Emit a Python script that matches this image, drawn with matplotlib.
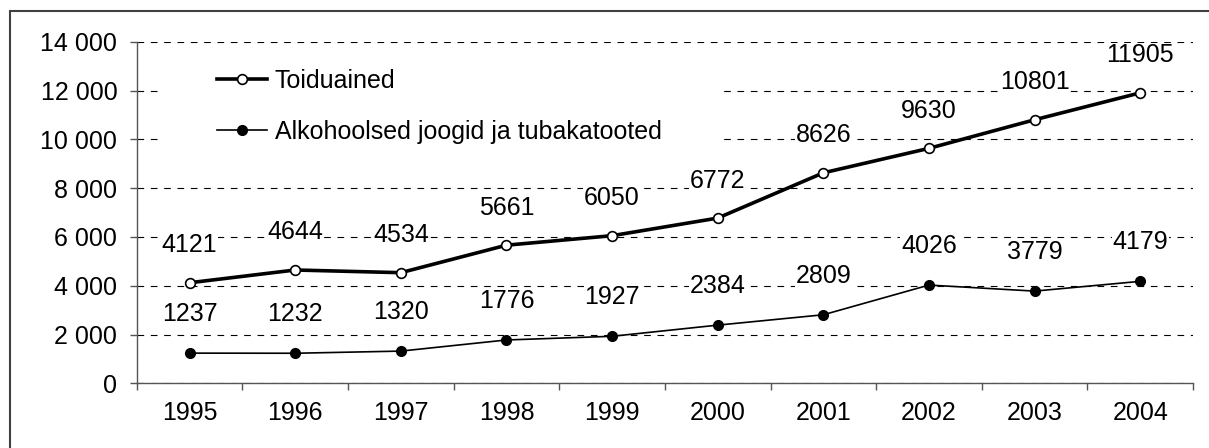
import matplotlib.pyplot as plt
from matplotlib.patches import Rectangle

# Andmed
aastad = ['1995', '1996', '1997', '1998', '1999', '2000', '2001', '2002', '2003', '2004']
toiduained = [4121, 4644, 4534, 5661, 6050, 6772, 8626, 9630, 10801, 11905]
alkohol = [1237, 1232, 1320, 1776, 1927, 2384, 2809, 4026, 3779, 4179]
y_ticks = [0, 2000, 4000, 6000, 8000, 10000, 12000, 14000]

plt.rcParams['font.family'] = ['Liberation Sans', 'DejaVu Sans']
plt.rcParams['font.size'] = 18

fig = plt.figure(figsize=(12.09, 4.48), dpi=100)
ax = fig.add_axes([0.1131, 0.1444, 0.8737, 0.7625])

x = list(range(len(aastad)))

ax.plot(x, toiduained, color='black', linewidth=2.6, marker='o', markersize=7,
        markerfacecolor='white', markeredgecolor='black', markeredgewidth=1.2,
        label='Toiduained', zorder=4)
ax.plot(x, alkohol, color='black', linewidth=1.2, marker='o', markersize=7,
        markerfacecolor='black', markeredgecolor='black',
        label='Alkohoolsed joogid ja tubakatooted', zorder=4)

# andmesildid
for xi, v in zip(x, toiduained):
    ax.annotate(str(v), (xi, v), xytext=(0, 27), textcoords='offset points',
                ha='center', va='center', zorder=5,
                bbox=dict(facecolor='white', edgecolor='none', pad=0.5))
for xi, v in zip(x, alkohol):
    ax.annotate(str(v), (xi, v), xytext=(0, 28), textcoords='offset points',
                ha='center', va='center', zorder=5,
                bbox=dict(facecolor='white', edgecolor='none', pad=0.5))

ax.set_xlim(-0.5, len(aastad) - 0.5)
ax.set_ylim(0, 14000)
ax.set_yticks(y_ticks)
ax.set_yticklabels([f'{t:,}'.replace(',', ' ') for t in y_ticks])
ax.set_xticks(x)
ax.set_xticklabels(aastad)
ax.set_xticks([i - 0.5 for i in range(len(aastad) + 1)], minor=True)

ax.grid(axis='y', color='black', linestyle=(0, (6, 6)), linewidth=0.8)
ax.set_axisbelow(True)

for s in ['top', 'right']:
    ax.spines[s].set_visible(False)
for s in ['left', 'bottom']:
    ax.spines[s].set_color('#555555')
    ax.spines[s].set_linewidth(1.0)

ax.tick_params(axis='y', length=5, width=1, color='#555555', pad=9)
ax.tick_params(axis='x', which='major', length=0, pad=13)
ax.tick_params(axis='x', which='minor', length=5, width=1, color='#555555')

# valge taust legendi all
ax.add_patch(Rectangle((0.020, 0.64), 0.533, 0.27, transform=ax.transAxes,
                       facecolor='white', edgecolor='none', zorder=2))
leg = ax.legend(loc='upper left', bbox_to_anchor=(0.076, 0.92), frameon=False,
                borderpad=0, borderaxespad=0, handlelength=2.0, handletextpad=0.3,
                labelspacing=1.08)

# raam ümber joonise
fig.patches.append(Rectangle((10 / 1209, -0.5), 1.5, 1.5 - 10.7 / 448,
                             transform=fig.transFigure, fill=False,
                             edgecolor='#404040', linewidth=1.5))

fig.savefig('out.png', dpi=100)
